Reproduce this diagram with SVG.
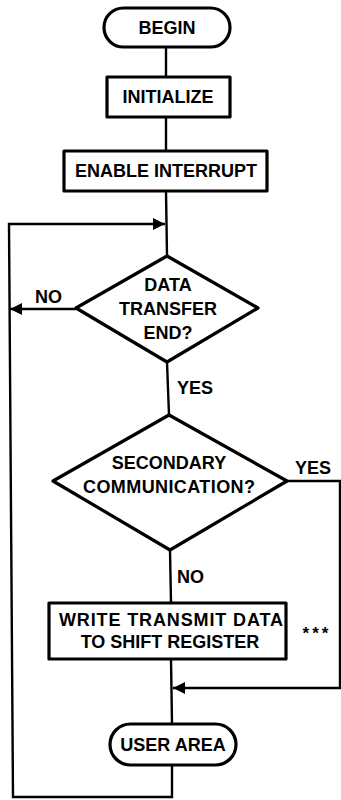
<svg xmlns="http://www.w3.org/2000/svg" width="341" height="800" viewBox="0 0 341 800">
<style>
.shape{fill:#fff;stroke:#000;stroke-width:3.2;stroke-linejoin:round}
.conn{fill:none;stroke:#000;stroke-width:2.4}
text{font-family:"Liberation Sans",Arial,sans-serif;font-weight:bold;font-size:18px;fill:#000;text-anchor:middle;dominant-baseline:central}
.lbl{text-anchor:start}
</style>
<defs>
<marker id="arr" viewBox="0 0 10 10" refX="10" refY="5" markerWidth="6.5" markerHeight="5" markerUnits="strokeWidth" orient="auto">
<path d="M0,0 L10,5 L0,10 z" fill="#000"/>
</marker>
</defs>
<g id="connectors">
<line class="conn" x1="166" y1="47" x2="166" y2="77"/>
<line class="conn" x1="166" y1="117" x2="166" y2="151"/>
<line class="conn" x1="166" y1="191" x2="167" y2="256"/>
<polyline class="conn" points="172,765 172,797 13,797 9,224 165,224" marker-end="url(#arr)"/>
<line class="conn" x1="76" y1="309" x2="10" y2="309" marker-end="url(#arr)"/>
<line class="conn" x1="167" y1="362" x2="169" y2="415"/>
<line class="conn" x1="170" y1="550" x2="171" y2="603"/>
<line class="conn" x1="171" y1="659" x2="172" y2="724"/>
<polyline class="conn" points="287,481 340,481 340,688 173,688" marker-end="url(#arr)"/>
<text class="lbl" x="35" y="297">NO</text>
<text class="lbl" x="177" y="388">YES</text>
<text class="lbl" x="295" y="468">YES</text>
<text class="lbl" x="177" y="577">NO</text>
</g>
<g id="begin">
<rect class="shape" x="104" y="8" width="126" height="39" rx="19.5"/>
<text x="167" y="28">BEGIN</text>
</g>
<g id="initialize">
<rect class="shape" x="107" y="77" width="123" height="40"/>
<text x="168" y="97">INITIALIZE</text>
</g>
<g id="enable">
<rect class="shape" x="64" y="151" width="203" height="40"/>
<text x="166" y="171">ENABLE INTERRUPT</text>
</g>
<g id="decision1">
<polygon class="shape" points="167,256 258,308 167,362 76,308"/>
<text x="168" y="285">DATA</text>
<text x="168" y="309">TRANSFER</text>
<text x="168" y="333">END?</text>
</g>
<g id="decision2">
<polygon class="shape" points="169,415 287,481 170,550 53,481"/>
<text x="169" y="463">SECONDARY</text>
<text x="169" y="487" textLength="172">COMMUNICATION?</text>
</g>
<g id="write">
<rect class="shape" x="49" y="603" width="237" height="56"/>
<text x="171" y="620" textLength="224">WRITE TRANSMIT DATA</text>
<text x="170" y="642">TO SHIFT REGISTER</text>
<text x="317" y="633" style="font-size:17px;letter-spacing:3px">***</text>
</g>
<g id="userarea">
<rect class="shape" x="110" y="724" width="126" height="41" rx="20.5"/>
<text x="173" y="745">USER AREA</text>
</g>
</svg>
